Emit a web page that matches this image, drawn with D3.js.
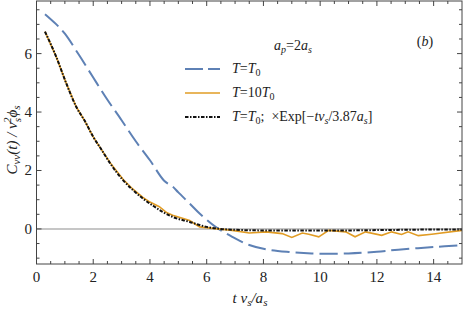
<!DOCTYPE html>
<html>
<head>
<meta charset="utf-8">
<script src="https://cdn.jsdelivr.net/npm/d3@7"></script>
<style>
  body { margin: 0; background: #fff; }
</style>
</head>
<body>
<script>
// data
const blueT  = [0.3,0.7,1.0,1.5,2.0,2.5,3.0,3.5,4.0,4.5,4.8,5.0,5.4,5.75,6.3,6.9,7.5,8.1,8.9,9.7,11.0,12.0,12.75,14.0,15.0];
const blueV  = [7.35,7.0,6.68,5.95,5.18,4.42,3.72,3.0,2.35,1.65,1.45,1.25,0.87,0.53,0.08,-0.27,-0.55,-0.7,-0.79,-0.84,-0.84,-0.78,-0.71,-0.62,-0.56];

const orangeT = [0.3,0.7,1.05,1.4,1.7,2.0,2.2,2.4,2.6,3.05,3.4,3.75,4.0,4.33,4.6,4.8,5.4,5.75,6.3,6.9,7.5,8.1,8.66,9.0,9.37,9.6,9.95,10.3,10.9,11.23,11.6,12.17,12.52,12.87,13.1,13.46,13.93,15.0];
const orangeV = [6.75,5.88,4.98,4.18,3.7,3.15,2.85,2.55,2.26,1.7,1.36,1.08,0.92,0.76,0.55,0.47,0.29,0.07,0.01,-0.05,-0.14,-0.1,-0.16,-0.29,-0.14,-0.18,-0.27,-0.05,-0.1,-0.27,-0.1,-0.22,-0.1,-0.19,-0.1,-0.23,-0.18,-0.05];

const blackT = [0.3,0.7,1.05,1.4,1.7,2.0,2.3,2.6,3.05,3.4,3.75,4.1,4.45,4.8,5.4,6.0,6.5,7,8,9,10,11,12,13,14,15];
const blackV = [6.75,5.88,4.98,4.18,3.7,3.15,2.7,2.24,1.67,1.33,1.04,0.8,0.58,0.41,0.24,0.07,0.0,-0.03,-0.05,-0.05,-0.05,-0.05,-0.04,-0.03,-0.02,-0.02];

const xTicks = [0,2,4,6,8,10,12,14];
const yTicks = [0,2,4,6];

const W = 463, H = 313;
const x = d3.scaleLinear().domain([0,15]).range([36.5,462]);
const y = d3.scaleLinear().domain([-1.2,7.8]).range([264,1]);

const svg = d3.select("body").append("svg")
  .attr("width", W).attr("height", H);

// zero line
svg.append("line")
  .attr("x1", x(0)).attr("x2", x(15))
  .attr("y1", y(0)).attr("y2", y(0))
  .attr("stroke","#b3b3b3").attr("stroke-width",1.6);

const zip = (a,b) => a.map((t,i) => [t,b[i]]);

svg.append("path").datum(zip(blueT,blueV))
  .attr("fill","none").attr("stroke","#5e81b5").attr("stroke-width",2)
  .attr("stroke-dasharray","18,6")
  .attr("d", d3.line().curve(d3.curveCatmullRom).x(d=>x(d[0])).y(d=>y(d[1])));

svg.append("path").datum(zip(orangeT,orangeV))
  .attr("fill","none").attr("stroke","#e19c24").attr("stroke-width",1.6)
  .attr("d", d3.line().x(d=>x(d[0])).y(d=>y(d[1])));

svg.append("path").datum(zip(blackT,blackV))
  .attr("fill","none").attr("stroke","#111").attr("stroke-width",2)
  .attr("stroke-dasharray","3.5,1.5,1.5,1.5")
  .attr("d", d3.line().curve(d3.curveMonotoneX).x(d=>x(d[0])).y(d=>y(d[1])));

// frame
svg.append("rect")
  .attr("x", x(0)).attr("y", y(7.8))
  .attr("width", x(15)-x(0)).attr("height", y(-1.2)-y(7.8))
  .attr("fill","none").attr("stroke","#444").attr("stroke-width",1);

// ticks, inward on all four sides
const xMinor = d3.range(0.5,15,0.5).filter(v => v%2 !== 0);
const yMinor = d3.range(-1,7.8,0.5).filter(v => v%2 !== 0);
const tk = svg.append("g").attr("stroke","#444").attr("stroke-width",1);
xTicks.concat(xMinor).forEach(v => {
  const len = xTicks.includes(v) ? 5 : 3;
  tk.append("line").attr("x1",x(v)).attr("x2",x(v)).attr("y1",y(-1.2)).attr("y2",y(-1.2)-len);
  tk.append("line").attr("x1",x(v)).attr("x2",x(v)).attr("y1",y(7.8)).attr("y2",y(7.8)+len);
});
yTicks.concat(yMinor).forEach(v => {
  const len = yTicks.includes(v) ? 5 : 3;
  tk.append("line").attr("y1",y(v)).attr("y2",y(v)).attr("x1",x(0)).attr("x2",x(0)+len);
  tk.append("line").attr("y1",y(v)).attr("y2",y(v)).attr("x1",x(15)).attr("x2",x(15)-len);
});

// tick labels
svg.append("g").selectAll("text").data(xTicks).join("text")
  .attr("x", d=>x(d)).attr("y", 282)
  .attr("text-anchor","middle").attr("font-size",15)
  .text(d=>d);
svg.append("g").selectAll("text").data(yTicks).join("text")
  .attr("x", 32).attr("y", d=>y(d)+5)
  .attr("text-anchor","end").attr("font-size",15)
  .text(d=>d);

// axis labels
const xl = svg.append("text").attr("x",250).attr("y",303)
  .attr("text-anchor","middle").attr("font-size",15).attr("font-style","italic");
xl.append("tspan").text("t v");
xl.append("tspan").attr("font-size",11).attr("dy",3).text("s");
xl.append("tspan").attr("dy",-3).text("/a");
xl.append("tspan").attr("font-size",11).attr("dy",3).text("s");

const yl = svg.append("text")
  .attr("transform","translate(17,140) rotate(-90)")
  .attr("text-anchor","middle").attr("font-size",15).attr("font-style","italic");
yl.append("tspan").text("C");
yl.append("tspan").attr("font-size",11).attr("dy",3).text("vv");
yl.append("tspan").attr("dy",-3).text("(t) / v");
yl.append("tspan").attr("font-size",11).attr("dy",4).text("s");
yl.append("tspan").attr("font-size",11).attr("dy",-10).attr("dx",-5).text("2");
yl.append("tspan").attr("dy",6).text("ϕ");
yl.append("tspan").attr("font-size",11).attr("dy",3).text("s");

// annotations
const ap = svg.append("text").attr("x",293).attr("y",50)
  .attr("text-anchor","middle").attr("font-size",14).attr("font-style","italic");
ap.append("tspan").text("a");
ap.append("tspan").attr("font-size",10).attr("dy",3).text("p");
ap.append("tspan").attr("dy",-3).attr("font-style","normal").text("=2");
ap.append("tspan").text("a");
ap.append("tspan").attr("font-size",10).attr("dy",3).text("s");

const bl = svg.append("text").attr("x",425).attr("y",46)
  .attr("text-anchor","middle").attr("font-size",14);
bl.append("tspan").text("(");
bl.append("tspan").attr("font-style","italic").text("b");
bl.append("tspan").text(")");

// legend
const legend = svg.append("g");
const legY = [69, 93, 117];
legend.append("line").attr("x1",185).attr("x2",220).attr("y1",legY[0]).attr("y2",legY[0])
  .attr("stroke","#5e81b5").attr("stroke-width",2).attr("stroke-dasharray","18,5");
legend.append("line").attr("x1",185).attr("x2",220).attr("y1",legY[1]).attr("y2",legY[1])
  .attr("stroke","#e19c24").attr("stroke-width",1.6);
legend.append("line").attr("x1",185).attr("x2",220).attr("y1",legY[2]).attr("y2",legY[2])
  .attr("stroke","#111").attr("stroke-width",2).attr("stroke-dasharray","3.5,1.5,1.5,1.5");

const l1 = legend.append("text").attr("x",232).attr("y",legY[0]+4).attr("font-size",14);
l1.append("tspan").attr("font-style","italic").text("T");
l1.append("tspan").text("=");
l1.append("tspan").attr("font-style","italic").text("T");
l1.append("tspan").attr("font-size",10).attr("dy",3).text("0");

const l2 = legend.append("text").attr("x",232).attr("y",legY[1]+4).attr("font-size",14);
l2.append("tspan").attr("font-style","italic").text("T");
l2.append("tspan").text("=10");
l2.append("tspan").attr("font-style","italic").text("T");
l2.append("tspan").attr("font-size",10).attr("dy",3).text("0");

const l3 = legend.append("text").attr("x",232).attr("y",legY[2]+4).attr("font-size",14);
l3.append("tspan").attr("font-style","italic").text("T");
l3.append("tspan").text("=");
l3.append("tspan").attr("font-style","italic").text("T");
l3.append("tspan").attr("font-size",10).attr("dy",3).text("0");
l3.append("tspan").attr("dy",-3).text(";\u00a0\u00a0×Exp[−");
l3.append("tspan").attr("font-style","italic").text("tv");
l3.append("tspan").attr("font-size",10).attr("dy",3).attr("font-style","italic").text("s");
l3.append("tspan").attr("dy",-3).text("/3.87");
l3.append("tspan").attr("font-style","italic").text("a");
l3.append("tspan").attr("font-size",10).attr("dy",3).attr("font-style","italic").text("s");
l3.append("tspan").attr("dy",-3).text("]");

// serif font set on every text node directly
svg.selectAll("text, tspan")
  .style("font-family", '"Liberation Serif"', "important")
  .style("fill", "#222");
</script>
</body>
</html>
